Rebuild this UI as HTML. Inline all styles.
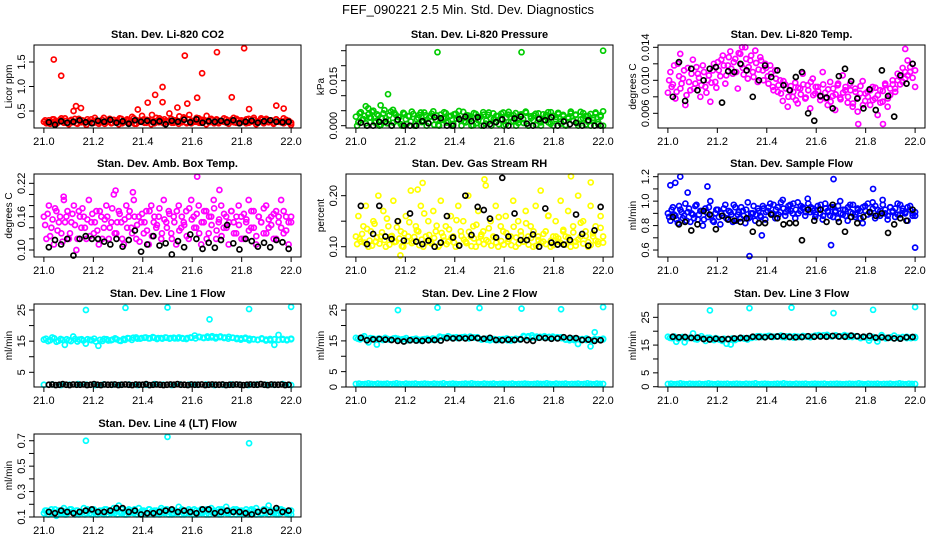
<!DOCTYPE html>
<html><head><meta charset="utf-8">
<style>
html,body{margin:0;padding:0;background:#fff;}
svg{display:block;font-family:"Liberation Sans",sans-serif;}
</style></head>
<body>
<svg id="chart" width="936" height="540" viewBox="0 0 936 540" xmlns="http://www.w3.org/2000/svg">
<rect width="936" height="540" fill="#fff"/>
<text x="468" y="14" text-anchor="middle" font-size="13">FEF_090221  2.5 Min. Std. Dev. Diagnostics</text>
</svg>
<script>
// ---------- DATA ----------
const xTickLabels = ["21.0","21.2","21.4","21.6","21.8","22.0"];
const xTickValues = [21.0,21.2,21.4,21.6,21.8,22.0];

const co2Red = [0.28,0.25,0.31,0.27,0.33,0.24,0.29,0.35,0.26,0.30,0.23,0.32,0.28,0.25,0.34,0.27,0.30,0.22,0.29,0.33,0.26,0.31,0.24,0.28,0.36,0.27,0.30,0.25,0.32,0.29,0.23,0.34,0.27,0.31,0.26,0.29,0.35,0.24,0.30,0.28,0.33,0.26,0.31,0.23,0.29,0.36,0.27,0.32,0.25,0.30,0.28,0.34,0.26,0.31,0.24,0.29,0.37,0.27,0.33,0.25,0.30,0.28,0.35,0.26,0.32,0.23,0.29,0.34,0.27,0.31,0.25,0.30,0.28,0.33,0.24,0.29,0.36,0.26,0.31,0.27,0.30,0.25,0.34,0.28,0.32,0.23,0.29,0.35,0.26,0.31,0.27,0.30,0.24,0.33,0.28,0.29,0.25,0.32,0.27,0.22];
const co2Red2 = [0.31,0.27,0.24,0.33,0.29,0.26,0.32,0.28,0.35,0.25,0.30,0.27,0.34,0.24,0.29,0.31,0.26,0.33,0.28,0.25,0.36,0.29,0.27,0.32,0.24,0.30,0.34,0.26,0.28,0.31,0.35,0.25,0.29,0.33,0.27,0.38,0.24,0.31,0.28,0.40,0.26,0.32,0.29,0.42,0.25,0.30,0.35,0.27,0.33,0.28,0.45,0.26,0.31,0.29,0.39,0.27,0.34,0.25,0.42,0.30,0.28,0.36,0.26,0.32,0.29,0.40,0.27,0.31,0.25,0.33,0.28,0.30,0.35,0.26,0.29,0.32,0.27,0.34,0.25,0.31,0.28,0.33,0.26,0.30,0.36,0.27,0.29,0.32,0.25,0.34,0.28,0.31,0.26,0.33,0.29,0.27,0.35,0.28,0.30,0.26];
const co2Black = [0.27,0.22,0.29,0.26,0.28,0.31,0.27,0.25,0.30,0.28,0.32,0.26,0.29,0.24,0.31,0.28,0.30,0.27,0.29,0.23,0.30,0.28,0.32,0.27,0.33,0.26,0.29,0.28,0.30,0.27,0.31,0.25,0.28,0.30,0.26,0.29,0.31,0.28,0.27,0.28];
const co2OutX = [21.04,21.07,21.12,21.13,21.15,21.38,21.42,21.45,21.48,21.48,21.54,21.57,21.58,21.62,21.64,21.70,21.76,21.81,21.83,21.94,21.97];
const co2OutY = [1.55,1.22,0.50,0.60,0.56,0.53,0.67,0.83,0.99,0.68,0.57,1.63,0.65,0.77,1.27,1.70,0.78,1.78,0.54,0.61,0.55];

const presGreen = [0.0030,0.0012,0.0045,0.0022,0.0008,0.0038,0.0027,0.0050,0.0015,0.0034,0.0003,0.0041,0.0025,0.0019,0.0047,0.0010,0.0036,0.0029,0.0005,0.0043,0.0021,0.0032,0.0014,0.0039,0.0000,0.0026,0.0044,0.0017,0.0035,0.0009,0.0031,0.0048,0.0020,0.0002,0.0037,0.0024,0.0042,0.0013,0.0033,0.0006,0.0040,0.0028,0.0016,0.0046,0.0011,0.0034,0.0023,0.0001,0.0039,0.0018,0.0030,0.0045,0.0007,0.0036,0.0025,0.0041,0.0012,0.0032,0.0020,0.0044,0.0004,0.0037,0.0027,0.0015,0.0042,0.0009,0.0034,0.0022,0.0047,0.0000,0.0031,0.0018,0.0040,0.0026,0.0011,0.0038,0.0029,0.0045,0.0006,0.0033,0.0021,0.0043,0.0014,0.0036,0.0002,0.0028,0.0041,0.0017,0.0035,0.0008,0.0046,0.0024,0.0032,0.0013,0.0039,0.0019,0.0044,0.0005,0.0030,0.0048];
const presGreen2 = [0.0000,0.0041,0.0019,0.0033,0.0000,0.0027,0.0046,0.0011,0.0038,0.0000,0.0024,0.0052,0.0008,0.0035,0.0000,0.0043,0.0016,0.0029,0.0000,0.0039,0.0006,0.0032,0.0047,0.0000,0.0021,0.0036,0.0012,0.0044,0.0000,0.0028,0.0040,0.0003,0.0034,0.0000,0.0019,0.0045,0.0010,0.0031,0.0000,0.0038,0.0023,0.0049,0.0000,0.0014,0.0035,0.0026,0.0000,0.0042,0.0008,0.0030,0.0000,0.0037,0.0017,0.0044,0.0000,0.0022,0.0033,0.0005,0.0040,0.0000,0.0027,0.0046,0.0013,0.0035,0.0000,0.0020,0.0038,0.0009,0.0043,0.0000,0.0025,0.0034,0.0002,0.0041,0.0000,0.0018,0.0036,0.0011,0.0045,0.0000,0.0029,0.0039,0.0007,0.0032,0.0000,0.0024,0.0047,0.0015,0.0037,0.0000,0.0021,0.0042,0.0004,0.0033,0.0000,0.0026,0.0040,0.0012,0.0035,0.0000];
const presBlack = [0.0010,0.0000,0.0000,0.0013,0.0013,0.0000,0.0020,0.0000,0.0000,0.0000,0.0015,0.0008,0.0028,0.0025,0.0000,0.0000,0.0022,0.0030,0.0015,0.0028,0.0000,0.0005,0.0012,0.0021,0.0000,0.0024,0.0030,0.0007,0.0000,0.0022,0.0018,0.0028,0.0000,0.0014,0.0005,0.0010,0.0000,0.0018,0.0000,0.0000];
const presOutX = [21.33,21.67,22.00,21.04,21.10,21.05,21.15,21.13];
const presOutY = [0.0245,0.0245,0.0250,0.0065,0.0068,0.0058,0.0053,0.0105];

const tempMag = [0.0085,0.0110,0.0095,0.0078,0.0120,0.0090,0.0102,0.0070,0.0115,0.0088,0.0125,0.0096,0.0108,0.0080,0.0118,0.0092,0.0100,0.0074,0.0112,0.0098,0.0122,0.0105,0.0130,0.0096,0.0118,0.0135,0.0108,0.0126,0.0090,0.0132,0.0115,0.0140,0.0102,0.0124,0.0110,0.0136,0.0098,0.0128,0.0112,0.0120,0.0105,0.0118,0.0092,0.0112,0.0086,0.0100,0.0075,0.0095,0.0068,0.0088,0.0080,0.0097,0.0072,0.0090,0.0108,0.0078,0.0094,0.0066,0.0102,0.0084,0.0092,0.0076,0.0110,0.0085,0.0070,0.0098,0.0081,0.0064,0.0094,0.0079,0.0106,0.0088,0.0073,0.0096,0.0068,0.0090,0.0062,0.0084,0.0099,0.0075,0.0086,0.0070,0.0092,0.0078,0.0058,0.0088,0.0074,0.0096,0.0068,0.0082,0.0100,0.0090,0.0108,0.0095,0.0115,0.0102,0.0124,0.0110,0.0120,0.0092];
const tempMag2 = [0.0100,0.0092,0.0118,0.0086,0.0105,0.0096,0.0112,0.0082,0.0098,0.0108,0.0090,0.0116,0.0103,0.0094,0.0110,0.0085,0.0106,0.0097,0.0120,0.0091,0.0112,0.0125,0.0118,0.0106,0.0128,0.0114,0.0122,0.0110,0.0133,0.0119,0.0107,0.0126,0.0116,0.0130,0.0104,0.0121,0.0113,0.0124,0.0100,0.0115,0.0096,0.0108,0.0088,0.0102,0.0094,0.0084,0.0099,0.0090,0.0080,0.0093,0.0086,0.0076,0.0091,0.0083,0.0095,0.0079,0.0088,0.0098,0.0082,0.0092,0.0087,0.0080,0.0095,0.0078,0.0089,0.0074,0.0090,0.0083,0.0096,0.0077,0.0085,0.0092,0.0080,0.0088,0.0072,0.0086,0.0079,0.0093,0.0070,0.0084,0.0080,0.0088,0.0076,0.0091,0.0082,0.0073,0.0087,0.0094,0.0078,0.0090,0.0095,0.0086,0.0100,0.0104,0.0098,0.0110,0.0106,0.0116,0.0103,0.0112];
const tempBlack = [0.0080,0.0122,0.0075,0.0114,0.0088,0.0100,0.0114,0.0116,0.0073,0.0111,0.0110,0.0120,0.0112,0.0080,0.0100,0.0118,0.0104,0.0112,0.0094,0.0088,0.0104,0.0110,0.0060,0.0051,0.0081,0.0079,0.0066,0.0105,0.0114,0.0099,0.0078,0.0066,0.0089,0.0064,0.0112,0.0081,0.0056,0.0106,0.0096,0.0120];
const tempOutX = [21.05,21.30,21.96,21.77,21.87];
const tempOutY = [0.0132,0.0140,0.0138,0.0047,0.0047];

const ambMag = [0.16,0.12,0.18,0.14,0.11,0.17,0.15,0.13,0.19,0.16,0.12,0.15,0.18,0.10,0.17,0.14,0.16,0.12,0.19,0.15,0.13,0.17,0.11,0.16,0.14,0.18,0.12,0.15,0.20,0.13,0.17,0.15,0.11,0.18,0.16,0.14,0.19,0.12,0.16,0.15,0.13,0.17,0.11,0.18,0.15,0.14,0.16,0.12,0.19,0.15,0.17,0.13,0.16,0.11,0.18,0.14,0.15,0.17,0.12,0.19,0.16,0.14,0.18,0.11,0.15,0.17,0.13,0.16,0.19,0.12,0.15,0.18,0.14,0.16,0.11,0.17,0.15,0.13,0.18,0.16,0.12,0.15,0.19,0.14,0.17,0.11,0.16,0.15,0.13,0.18,0.14,0.16,0.12,0.17,0.15,0.19,0.13,0.16,0.11,0.15];
const ambMag2 = [0.145,0.165,0.125,0.155,0.175,0.135,0.16,0.115,0.15,0.17,0.13,0.165,0.145,0.12,0.16,0.175,0.14,0.155,0.125,0.165,0.15,0.135,0.17,0.12,0.155,0.16,0.14,0.175,0.13,0.15,0.165,0.12,0.155,0.14,0.17,0.13,0.16,0.145,0.115,0.165,0.15,0.135,0.17,0.125,0.16,0.145,0.175,0.13,0.155,0.14,0.165,0.12,0.15,0.17,0.135,0.16,0.145,0.125,0.175,0.155,0.14,0.165,0.13,0.15,0.17,0.12,0.16,0.145,0.175,0.135,0.155,0.125,0.165,0.14,0.15,0.17,0.13,0.16,0.145,0.12,0.165,0.155,0.135,0.17,0.14,0.125,0.16,0.15,0.175,0.13,0.155,0.145,0.165,0.12,0.16,0.14,0.17,0.135,0.15,0.16];
const ambBlack = [0.105,0.118,0.11,0.12,0.09,0.12,0.125,0.12,0.12,0.115,0.11,0.12,0.106,0.118,0.135,0.097,0.11,0.125,0.108,0.112,0.092,0.116,0.105,0.128,0.12,0.102,0.113,0.104,0.118,0.145,0.112,0.101,0.12,0.116,0.106,0.113,0.105,0.118,0.114,0.102];
const ambOutX = [21.62,21.71,21.29,21.36,21.08];
const ambOutY = [0.232,0.208,0.207,0.204,0.196];

const rhYellow = [0.12,0.16,0.11,0.14,0.18,0.10,0.13,0.15,0.11,0.20,0.12,0.17,0.10,0.14,0.12,0.19,0.11,0.15,0.13,0.10,0.16,0.12,0.21,0.11,0.14,0.13,0.18,0.10,0.12,0.15,0.11,0.17,0.13,0.10,0.19,0.12,0.14,0.11,0.16,0.12,0.10,0.18,0.13,0.15,0.11,0.20,0.12,0.14,0.10,0.17,0.12,0.13,0.22,0.11,0.15,0.12,0.18,0.10,0.14,0.13,0.16,0.11,0.12,0.19,0.10,0.15,0.13,0.11,0.17,0.12,0.14,0.10,0.18,0.12,0.21,0.11,0.13,0.16,0.10,0.12,0.15,0.11,0.19,0.13,0.12,0.17,0.10,0.14,0.11,0.20,0.12,0.15,0.13,0.10,0.18,0.12,0.14,0.11,0.16,0.12];
const rhYellow2 = [0.105,0.115,0.125,0.108,0.135,0.112,0.102,0.145,0.118,0.106,0.128,0.113,0.155,0.104,0.121,0.109,0.138,0.116,0.101,0.126,0.111,0.148,0.107,0.119,0.132,0.103,0.114,0.165,0.109,0.123,0.106,0.117,0.141,0.102,0.127,0.112,0.105,0.134,0.118,0.108,0.152,0.103,0.121,0.114,0.107,0.129,0.101,0.116,0.143,0.109,0.124,0.105,0.113,0.136,0.102,0.119,0.108,0.158,0.111,0.104,0.127,0.115,0.103,0.139,0.118,0.106,0.122,0.110,0.146,0.104,0.117,0.130,0.102,0.113,0.108,0.125,0.105,0.161,0.112,0.103,0.120,0.116,0.107,0.133,0.104,0.118,0.110,0.128,0.102,0.114,0.147,0.106,0.121,0.109,0.103,0.126,0.112,0.105,0.137,0.108];
const rhBlack = [0.18,0.105,0.125,0.18,0.12,0.115,0.15,0.112,0.165,0.11,0.105,0.112,0.10,0.108,0.16,0.118,0.102,0.20,0.123,0.178,0.172,0.155,0.118,0.235,0.12,0.165,0.113,0.113,0.124,0.10,0.175,0.108,0.104,0.104,0.113,0.163,0.125,0.102,0.132,0.178];
const rhOutX = [21.52,21.87,21.95,21.27,21.18,21.25];
const rhOutY = [0.232,0.238,0.226,0.225,0.083,0.212];

const flowBlue = [0.90,0.84,0.95,0.88,0.82,0.93,0.86,0.98,0.91,0.83,0.89,0.96,0.85,0.92,0.80,0.94,0.87,1.00,0.84,0.90,0.93,0.81,0.88,0.97,0.85,0.91,0.83,0.95,0.89,0.86,0.92,0.82,0.99,0.87,0.90,0.84,0.94,0.88,0.96,0.85,0.92,0.98,0.89,0.86,0.95,0.91,1.01,0.88,0.93,0.97,0.90,0.86,0.99,0.92,0.95,0.88,1.02,0.91,0.94,0.87,0.96,0.90,0.85,0.98,0.92,0.88,0.95,0.91,0.86,1.00,0.89,0.93,0.84,0.97,0.90,0.87,0.94,0.92,0.82,0.96,0.89,0.91,0.99,0.86,0.93,0.88,1.01,0.90,0.85,0.95,0.92,0.87,0.98,0.89,0.94,0.91,0.84,0.96,0.90,0.88];
const flowBlue2 = [0.87,0.93,0.89,0.85,0.96,0.91,0.88,0.84,0.94,0.90,0.86,0.97,0.89,0.92,0.85,0.91,0.95,0.88,0.83,0.93,0.87,0.90,0.94,0.86,0.92,0.89,0.97,0.84,0.91,0.95,0.88,0.93,0.86,0.90,0.96,0.89,0.92,0.87,0.94,0.91,0.95,0.90,0.97,0.93,0.89,0.99,0.94,0.91,0.96,0.92,0.98,0.93,0.90,0.96,0.94,0.91,0.98,0.95,0.92,0.89,0.93,0.97,0.88,0.94,0.91,0.95,0.87,0.92,0.96,0.90,0.93,0.88,0.95,0.91,0.97,0.89,0.93,0.86,0.95,0.92,0.98,0.90,0.94,0.96,0.89,0.92,0.97,0.93,0.88,0.95,0.91,0.94,0.89,0.97,0.92,0.90,0.95,0.93,0.88,0.91];
const flowBlack = [0.87,0.81,0.83,0.76,0.81,0.92,0.89,0.77,0.88,0.85,0.84,0.83,0.86,0.75,0.82,0.82,0.89,0.86,0.81,0.82,0.82,0.68,0.93,0.84,0.93,0.83,0.97,0.83,0.75,0.87,0.82,0.87,0.91,0.88,0.90,0.74,0.81,0.86,0.84,0.93];
const flowOutX = [21.05,21.03,21.01,21.67,21.33,22.00,21.66,21.16,21.83,21.08,21.38];
const flowOutY = [1.20,1.15,1.13,1.18,0.55,0.62,0.64,1.12,1.10,1.07,0.72];

const line1Cyan = [15.5,15.0,16.2,14.8,15.7,13.8,15.3,16.5,14.9,15.6,14.2,15.4,15.8,13.5,15.1,15.6,15.3,15.9,15.2,15.7,16.0,15.4,16.2,15.8,16.1,15.9,16.3,15.7,16.0,16.2,15.8,16.1,15.9,16.0,15.7,16.2,16.8,16.4,16.1,16.5,16.2,15.9,16.3,16.0,15.8,16.1,15.7,15.5,15.8,15.3,15.6,15.4,15.9,15.2,15.7,13.8,17.0,15.5,15.3,15.8];
const line1Cyan2 = [15.8,15.3,15.9,15.1,15.4,15.6,15.0,15.7,15.5,15.2,15.6,15.3,14.9,15.4,15.7,15.2,15.5,15.6,15.1,15.4,15.9,16.1,15.8,16.0,16.2,15.9,16.1,16.0,15.8,16.1,16.0,15.9,16.2,15.8,16.0,16.1,15.9,16.3,16.0,16.1,16.6,16.3,16.5,16.2,16.4,16.1,16.0,15.9,16.1,15.8,15.6,15.4,15.7,15.5,15.3,15.6,15.4,15.7,15.5,15.6];
const line1CyanLow = [1.0,1.1,0.9,1.0,1.2,1.0,0.9,1.1,1.0,1.0,1.1,0.9,1.0,1.2,1.0,0.9,1.1,1.0,1.0,1.1,0.9,1.0,1.1,1.0,0.9,1.1,1.0,1.0,1.2,0.9];
const line1Black = [1.0,1.1,0.9,1.0,1.2,1.0,0.9,1.1,1.0,1.0,1.1,0.9,1.0,1.2,1.0,0.9,1.1,1.0,1.0,1.1,0.9,1.0,1.1,1.0,0.9,1.1,1.0,1.0,1.2,0.9,1.0,1.1,1.0,0.9,1.0,1.1,1.0,1.2,1.0,1.0,0.9,1.1,1.0,1.0,1.1,0.9,1.0,1.1,1.0,1.0,1.1,0.9,1.0,1.0,1.1,1.0,0.9,1.0,1.1,1.0,1.0,1.2,1.0,0.9,1.1,1.0,1.0,1.1,0.9,1.0];
const line1OutX = [21.17,21.33,21.50,21.67,21.83,22.00];
const line1OutY = [25.0,25.7,25.8,22.0,25.3,26.0];

const line2Cyan = [16.0,15.5,16.5,14.5,15.8,13.8,15.6,16.0,15.4,15.8,15.7,15.5,15.9,15.2,15.6,15.3,15.5,15.7,15.4,15.6,16.4,16.1,16.5,15.9,16.2,16.0,16.3,15.8,16.1,16.2,15.4,15.7,15.2,15.6,15.3,15.5,15.8,15.1,15.4,15.6,16.6,16.2,16.8,16.0,16.3,16.5,16.1,16.4,15.9,16.2,15.5,15.2,15.8,14.0,15.6,15.3,13.2,17.8,15.5,15.7];
const line2Cyan2 = [15.7,16.1,15.4,15.9,15.6,15.8,15.3,15.7,15.5,15.9,15.4,15.6,15.2,15.5,15.7,15.3,15.6,15.4,15.8,15.5,16.2,16.0,16.3,16.1,15.9,16.2,16.0,16.4,16.1,15.8,15.6,15.4,15.7,15.3,15.5,15.6,15.2,15.5,15.7,15.4,16.3,16.5,16.1,16.4,16.2,16.0,16.3,16.1,16.2,15.9,15.4,15.7,15.3,15.6,15.5,15.8,15.2,15.6,15.4,15.5];
const line2CyanLow = [1.0,1.1,0.9,1.0,1.2,1.0,0.9,1.1,1.0,1.0,1.1,0.9,1.0,1.2,1.0,0.9,1.1,1.0,1.0,1.1,0.9,1.0,1.1,1.0,0.9,1.1,1.0,1.0,1.2,0.9,1.0,1.1,1.0,0.9,1.0,1.1,1.0,1.2,1.0,1.0,0.9,1.1,1.0,1.0,1.1,0.9,1.0,1.1,1.0,1.0,1.1,0.9,1.0,1.0,1.1,1.0,0.9,1.0,1.1,1.0,1.0,1.2,1.0,0.9,1.1,1.0,1.0,1.1,0.9,1.0,1.0,1.1,0.9,1.0,1.2,1.0,0.9,1.1,1.0,1.0];
const line2Black = [16.0,15.2,15.5,15.6,15.4,15.3,15.0,14.8,15.2,15.1,15.0,15.2,15.3,15.1,15.9,15.8,15.9,15.8,16.0,15.9,15.7,16.0,15.3,15.2,15.4,15.3,15.5,15.2,15.0,16.0,15.9,15.7,15.8,16.2,16.0,15.9,15.3,15.4,15.0,15.2];
const line2OutX = [21.17,21.33,21.50,21.67,21.83,22.00];
const line2OutY = [25.0,25.8,25.7,25.5,25.3,26.0];

const line3Cyan = [18.0,17.5,16.2,17.8,16.0,17.5,19.2,17.0,18.2,16.5,17.6,16.8,17.2,16.5,15.5,15.2,16.8,17.3,17.5,17.0,17.6,17.8,18.2,18.0,18.3,17.9,18.1,18.4,17.8,18.2,17.7,18.0,17.9,18.1,17.8,18.3,18.6,18.4,18.7,18.2,18.5,18.1,18.4,18.3,17.9,18.2,17.5,17.8,16.6,17.9,16.3,18.6,17.4,17.7,18.4,17.6,17.8,18.0,17.5,17.9];
const line3Cyan2 = [17.6,18.1,17.3,17.9,17.5,17.8,17.2,17.7,17.4,17.6,17.1,17.5,16.9,17.3,17.0,17.4,17.2,17.6,17.3,17.5,18.0,18.2,17.9,18.1,18.3,18.0,18.2,17.9,18.1,18.0,18.2,17.9,18.3,18.1,18.0,18.4,18.2,18.5,18.3,18.1,18.4,18.2,18.6,18.0,18.3,18.1,17.7,17.9,17.6,17.8,17.5,17.9,17.6,17.8,17.4,17.7,17.9,17.5,17.8,17.6];
const line3CyanLow = [1.0,1.1,0.9,1.0,1.2,1.0,0.9,1.1,1.0,1.0,1.1,0.9,1.0,1.2,1.0,0.9,1.1,1.0,1.0,1.1,0.9,1.0,1.1,1.0,0.9,1.1,1.0,1.0,1.2,0.9,1.0,1.1,1.0,0.9,1.0,1.1,1.0,1.2,1.0,1.0,0.9,1.1,1.0,1.0,1.1,0.9,1.0,1.1,1.0,1.0,1.1,0.9,1.0,1.0,1.1,1.0,0.9,1.0,1.1,1.0,1.0,1.2,1.0,0.9,1.1,1.0,1.0,1.1,0.9,1.0,1.0,1.1,0.9,1.0,1.2,1.0,0.9,1.1,1.0,1.0];
const line3Black = [18.0,17.8,17.9,17.6,17.7,17.2,17.0,17.3,17.1,17.2,17.4,17.6,17.5,18.0,17.9,17.8,18.0,18.1,18.2,17.9,17.8,17.9,18.2,18.0,18.1,18.0,18.3,18.1,18.0,18.4,18.2,18.0,18.3,17.7,17.8,17.6,17.4,17.3,17.8,17.9];
const line3OutX = [21.17,21.33,21.50,21.67,21.83,22.00];
const line3OutY = [27.5,28.3,28.5,26.5,27.7,28.7];

const line4Cyan = [0.13,0.15,0.12,0.16,0.14,0.11,0.15,0.13,0.17,0.12,0.14,0.16,0.13,0.15,0.12,0.14,0.17,0.13,0.15,0.12,0.16,0.14,0.13,0.15,0.12,0.16,0.14,0.13,0.17,0.15,0.19,0.13,0.14,0.12,0.16,0.15,0.13,0.14,0.17,0.12,0.15,0.13,0.16,0.14,0.12,0.15,0.13,0.17,0.14,0.16,0.12,0.15,0.13,0.14,0.18,0.12,0.15,0.13,0.16,0.14,0.12,0.15,0.13,0.16,0.14,0.12,0.15,0.17,0.13,0.14,0.16,0.12,0.15,0.18,0.13,0.14,0.16,0.12,0.15,0.13,0.14,0.16,0.12,0.15,0.13,0.17,0.14,0.12,0.16,0.13,0.19,0.15,0.14,0.12,0.16,0.13,0.15,0.14,0.12,0.15];
const line4Cyan2 = [0.15,0.12,0.14,0.13,0.16,0.12,0.14,0.15,0.12,0.13,0.16,0.14,0.12,0.15,0.13,0.14,0.12,0.16,0.13,0.15,0.14,0.12,0.15,0.13,0.16,0.12,0.15,0.14,0.13,0.12,0.14,0.16,0.12,0.15,0.13,0.14,0.16,0.12,0.13,0.15,0.14,0.12,0.16,0.13,0.15,0.14,0.12,0.15,0.13,0.16,0.14,0.12,0.15,0.13,0.14,0.16,0.12,0.15,0.13,0.14,0.16,0.12,0.14,0.13,0.15,0.16,0.12,0.14,0.15,0.13,0.12,0.16,0.14,0.13,0.15,0.12,0.14,0.16,0.13,0.15,0.12,0.14,0.13,0.16,0.15,0.12,0.14,0.13,0.15,0.16,0.12,0.14,0.13,0.15,0.12,0.16,0.14,0.13,0.15,0.12];
const line4Black = [0.14,0.13,0.15,0.14,0.13,0.14,0.15,0.16,0.14,0.14,0.15,0.17,0.17,0.14,0.15,0.12,0.13,0.13,0.14,0.15,0.16,0.14,0.15,0.14,0.13,0.16,0.16,0.13,0.14,0.15,0.14,0.14,0.13,0.12,0.14,0.15,0.14,0.17,0.14,0.15];
const line4OutX = [21.17,21.50,21.83];
const line4OutY = [0.70,0.73,0.68];

// ---------- LAYOUT ----------
const colX = [34,346,658], rowY = [45,174,304,434], boxW = 267, boxH = 83;
const xlim = [20.96,22.04];

const panels = [
 {name:"co2",title:"Stan. Dev. Li-820 CO2",ylab:"Licor ppm",col:0,row:0,color:"#ff0000",ylim:[0.153,1.847],
  ticks:[0.5,1.0,1.5],labels:["0.5","1.0","1.5"],bands:[co2Red,co2Red2],black:co2Black,ox:co2OutX,oy:co2OutY,oc:"#ff0000"},
 {name:"pressure",title:"Stan. Dev. Li-820 Pressure",ylab:"kPa",col:1,row:0,color:"#00cc00",ylim:[-0.00077,0.0269],
  ticks:[0,0.005,0.010,0.015,0.020,0.025],labels:["0.000","","","0.015","",""],bands:[presGreen,presGreen2],black:presBlack,ox:presOutX,oy:presOutY,oc:"#00cc00"},
 {name:"temp",title:"Stan. Dev. Li-820 Temp.",ylab:"degrees C",col:2,row:0,color:"#ff00ff",ylim:[0.00422,0.01428],
  ticks:[0.006,0.008,0.010,0.012,0.014],labels:["0.006","","0.010","","0.014"],bands:[tempMag,tempMag2],black:tempBlack,ox:tempOutX,oy:tempOutY,oc:"#ff00ff"},
 {name:"amb-temp",title:"Stan. Dev. Amb. Box Temp.",ylab:"degrees C",col:0,row:1,color:"#ff00ff",ylim:[0.0874,0.2368],
  ticks:[0.10,0.12,0.14,0.16,0.18,0.20,0.22],labels:["0.10","","","0.16","","","0.22"],bands:[ambMag,ambMag2],black:ambBlack,ox:ambOutX,oy:ambOutY,oc:"#ff00ff"},
 {name:"rh",title:"Stan. Dev. Gas Stream RH",ylab:"percent",col:1,row:1,color:"#ffff00",ylim:[0.0798,0.2425],
  ticks:[0.10,0.15,0.20],labels:["0.10","","0.20"],bands:[rhYellow,rhYellow2],black:rhBlack,ox:rhOutX,oy:rhOutY,oc:"#ffff00"},
 {name:"sample-flow",title:"Stan. Dev. Sample Flow",ylab:"ml/min",col:2,row:1,color:"#0000ff",ylim:[0.543,1.222],
  ticks:[0.6,0.7,0.8,0.9,1.0,1.1,1.2],labels:["0.6","","0.8","","1.0","","1.2"],bands:[flowBlue,flowBlue2],black:flowBlack,ox:flowOutX,oy:flowOutY,oc:"#0000ff"},
 {name:"line1-flow",title:"Stan. Dev. Line 1 Flow",ylab:"ml/min",col:0,row:2,color:"#00ffff",ylim:[0.28,26.93],
  ticks:[5,10,15,20,25],labels:["5","","15","","25"],bands:[line1Cyan,line1Cyan2,line1CyanLow],black:line1Black,ox:line1OutX,oy:line1OutY,oc:"#00ffff"},
 {name:"line2-flow",title:"Stan. Dev. Line 2 Flow",ylab:"ml/min",col:1,row:2,color:"#00ffff",ylim:[0,27],
  ticks:[0,5,10,15,20,25],labels:["0","5","","15","","25"],bands:[line2Cyan,line2Cyan2,line2CyanLow],black:line2Black,ox:line2OutX,oy:line2OutY,oc:"#00ffff"},
 {name:"line3-flow",title:"Stan. Dev. Line 3 Flow",ylab:"ml/min",col:2,row:2,color:"#00ffff",ylim:[-0.1,29.8],
  ticks:[0,5,10,15,20,25],labels:["0","5","","15","","25"],bands:[line3Cyan,line3Cyan2,line3CyanLow],black:line3Black,ox:line3OutX,oy:line3OutY,oc:"#00ffff"},
 {name:"line4-flow",title:"Stan. Dev. Line 4 (LT) Flow",ylab:"ml/min",col:0,row:3,color:"#00ffff",ylim:[0.1,0.753],
  ticks:[0.1,0.2,0.3,0.4,0.5,0.6,0.7],labels:["0.1","","0.3","","0.5","","0.7"],bands:[line4Cyan,line4Cyan2],black:line4Black,ox:line4OutX,oy:line4OutY,oc:"#00ffff"}
];

const svg = document.getElementById('chart');
const NS = "http://www.w3.org/2000/svg";
function mk(tag, attrs, parent){
  const e = document.createElementNS(NS, tag);
  for (const k in attrs) e.setAttribute(k, attrs[k]);
  (parent||svg).appendChild(e);
  return e;
}

panels.forEach(p => {
  const L = colX[p.col], T = rowY[p.row];
  const xs = v => L + (v - xlim[0]) / (xlim[1] - xlim[0]) * boxW;
  const ys = v => T + boxH - (v - p.ylim[0]) / (p.ylim[1] - p.ylim[0]) * boxH;
  const g = mk('g', {});
  
  

  const title = mk('text', {x: L + boxW/2, y: T - 7, 'text-anchor':'middle', 'font-size':'11', 'font-weight':'bold'}, g);
  title.textContent = p.title;
  
  

  const pts = mk('g', {fill:'none', 'stroke-width':'1.7'}, g);
  
  
  p.bands.forEach((arr, bi) => {
    const off = bi === 1 ? 0.5/(arr.length-1) : 0;
    arr.forEach((v, i) => {
      const c = mk('circle', {cx: xs(21 + i/(arr.length-1) * (1 - (bi===1?0.5/(arr.length-1):0)) + off), cy: ys(v), r: 2.5, stroke: p.color}, pts);
      
      
    });
  });
  p.ox.forEach((xv, i) => {
    const c = mk('circle', {cx: xs(xv), cy: ys(p.oy[i]), r: 2.5, stroke: p.oc}, pts);
    
    
  });
  p.black.forEach((v, i) => {
    const c = mk('circle', {cx: xs(21.02 + 0.97 * i/(p.black.length-1)), cy: ys(v), r: 2.5, stroke: '#000'}, pts);
    
    
  });

  const box = mk('rect', {x: L, y: T, width: boxW, height: boxH, fill:'none', stroke:'#000', 'stroke-width':'1'}, g);
  
  

  const xa = mk('g', {}, g);
  
  
  mk('line', {x1: xs(21), x2: xs(22), y1: T+boxH, y2: T+boxH, stroke:'#000'}, xa);
  xTickValues.forEach((v, i) => {
    mk('line', {x1: xs(v), x2: xs(v), y1: T+boxH, y2: T+boxH+5, stroke:'#000'}, xa);
    const t = mk('text', {x: xs(v), y: T+boxH+17, 'text-anchor':'middle', 'font-size':'11'}, xa);
    t.textContent = xTickLabels[i];
    
    
  });

  const ya = mk('g', {}, g);
  
  
  mk('line', {x1: L, x2: L, y1: ys(p.ticks[0]), y2: ys(p.ticks[p.ticks.length-1]), stroke:'#000'}, ya);
  p.ticks.forEach((v, i) => {
    mk('line', {x1: L-5, x2: L, y1: ys(v), y2: ys(v), stroke:'#000'}, ya);
    if (p.labels[i]) {
      const t = mk('text', {x: 0, y: 0, 'text-anchor':'middle', 'font-size':'11', transform: `translate(${L-9},${ys(v)}) rotate(-90)`}, ya);
      t.textContent = p.labels[i];
      
      
    }
  });
  const yl = mk('text', {x: 0, y: 0, 'text-anchor':'middle', 'font-size':'10', transform: `translate(${L-22},${T+boxH/2}) rotate(-90)`}, g);
  yl.textContent = p.ylab;
  
  
});
</script>
</body></html>
